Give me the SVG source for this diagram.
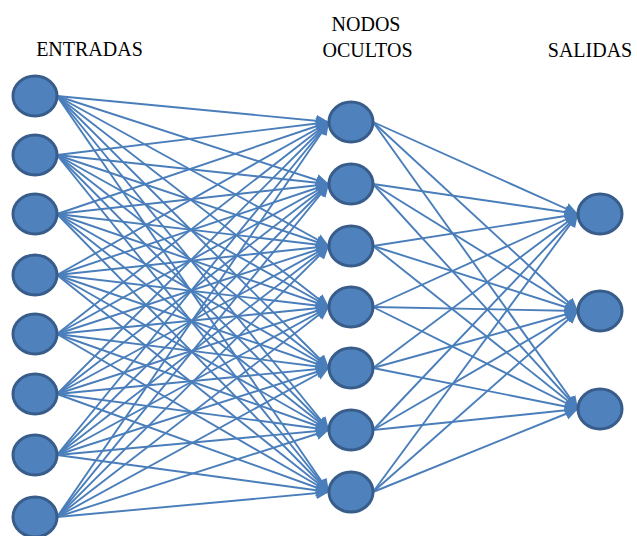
<svg xmlns="http://www.w3.org/2000/svg" width="637" height="536" viewBox="0 0 637 536">
<defs>
<marker id="ah" markerUnits="userSpaceOnUse" markerWidth="16" markerHeight="14" refX="13" refY="6" orient="auto">
<path d="M0,0 L13,6 L0,12 Z" fill="#4a7ebb"/>
</marker>
</defs>
<rect width="637" height="536" fill="#fff"/>
<g id="connectors" stroke="#4a7ebb" stroke-width="1.9" marker-end="url(#ah)">
<line x1="57" y1="96" x2="329" y2="122"/><line x1="57" y1="96" x2="329" y2="184"/><line x1="57" y1="96" x2="329" y2="246"/><line x1="57" y1="96" x2="329" y2="307"/><line x1="57" y1="96" x2="329" y2="368"/><line x1="57" y1="96" x2="329" y2="430"/><line x1="57" y1="96" x2="329" y2="492"/>
<line x1="57" y1="155" x2="329" y2="122"/><line x1="57" y1="155" x2="329" y2="184"/><line x1="57" y1="155" x2="329" y2="246"/><line x1="57" y1="155" x2="329" y2="307"/><line x1="57" y1="155" x2="329" y2="368"/><line x1="57" y1="155" x2="329" y2="430"/><line x1="57" y1="155" x2="329" y2="492"/>
<line x1="57" y1="214" x2="329" y2="122"/><line x1="57" y1="214" x2="329" y2="184"/><line x1="57" y1="214" x2="329" y2="246"/><line x1="57" y1="214" x2="329" y2="307"/><line x1="57" y1="214" x2="329" y2="368"/><line x1="57" y1="214" x2="329" y2="430"/><line x1="57" y1="214" x2="329" y2="492"/>
<line x1="57" y1="275" x2="329" y2="122"/><line x1="57" y1="275" x2="329" y2="184"/><line x1="57" y1="275" x2="329" y2="246"/><line x1="57" y1="275" x2="329" y2="307"/><line x1="57" y1="275" x2="329" y2="368"/><line x1="57" y1="275" x2="329" y2="430"/><line x1="57" y1="275" x2="329" y2="492"/>
<line x1="57" y1="334" x2="329" y2="122"/><line x1="57" y1="334" x2="329" y2="184"/><line x1="57" y1="334" x2="329" y2="246"/><line x1="57" y1="334" x2="329" y2="307"/><line x1="57" y1="334" x2="329" y2="368"/><line x1="57" y1="334" x2="329" y2="430"/><line x1="57" y1="334" x2="329" y2="492"/>
<line x1="57" y1="394" x2="329" y2="122"/><line x1="57" y1="394" x2="329" y2="184"/><line x1="57" y1="394" x2="329" y2="246"/><line x1="57" y1="394" x2="329" y2="307"/><line x1="57" y1="394" x2="329" y2="368"/><line x1="57" y1="394" x2="329" y2="430"/><line x1="57" y1="394" x2="329" y2="492"/>
<line x1="57" y1="455" x2="329" y2="122"/><line x1="57" y1="455" x2="329" y2="184"/><line x1="57" y1="455" x2="329" y2="246"/><line x1="57" y1="455" x2="329" y2="307"/><line x1="57" y1="455" x2="329" y2="368"/><line x1="57" y1="455" x2="329" y2="430"/><line x1="57" y1="455" x2="329" y2="492"/>
<line x1="57" y1="517" x2="329" y2="122"/><line x1="57" y1="517" x2="329" y2="184"/><line x1="57" y1="517" x2="329" y2="246"/><line x1="57" y1="517" x2="329" y2="307"/><line x1="57" y1="517" x2="329" y2="368"/><line x1="57" y1="517" x2="329" y2="430"/><line x1="57" y1="517" x2="329" y2="492"/>
<line x1="373" y1="122" x2="578" y2="214"/><line x1="373" y1="122" x2="578" y2="311"/><line x1="373" y1="122" x2="578" y2="409"/>
<line x1="373" y1="184" x2="578" y2="214"/><line x1="373" y1="184" x2="578" y2="311"/><line x1="373" y1="184" x2="578" y2="409"/>
<line x1="373" y1="246" x2="578" y2="214"/><line x1="373" y1="246" x2="578" y2="311"/><line x1="373" y1="246" x2="578" y2="409"/>
<line x1="373" y1="307" x2="578" y2="214"/><line x1="373" y1="307" x2="578" y2="311"/><line x1="373" y1="307" x2="578" y2="409"/>
<line x1="373" y1="368" x2="578" y2="214"/><line x1="373" y1="368" x2="578" y2="311"/><line x1="373" y1="368" x2="578" y2="409"/>
<line x1="373" y1="430" x2="578" y2="214"/><line x1="373" y1="430" x2="578" y2="311"/><line x1="373" y1="430" x2="578" y2="409"/>
<line x1="373" y1="492" x2="578" y2="214"/><line x1="373" y1="492" x2="578" y2="311"/><line x1="373" y1="492" x2="578" y2="409"/>
</g>
<g fill="#4f81bd" stroke="#385d8a" stroke-width="3">
<g id="in1"><ellipse cx="35" cy="96" rx="22" ry="20"/></g>
<g id="in2"><ellipse cx="35" cy="155" rx="22" ry="20"/></g>
<g id="in3"><ellipse cx="35" cy="214" rx="22" ry="20"/></g>
<g id="in4"><ellipse cx="35" cy="275" rx="22" ry="20"/></g>
<g id="in5"><ellipse cx="35" cy="334" rx="22" ry="20"/></g>
<g id="in6"><ellipse cx="35" cy="394" rx="22" ry="20"/></g>
<g id="in7"><ellipse cx="35" cy="455" rx="22" ry="20"/></g>
<g id="in8"><ellipse cx="35" cy="517" rx="22" ry="20"/></g>
<g id="h1"><ellipse cx="351" cy="122" rx="22" ry="20"/></g>
<g id="h2"><ellipse cx="351" cy="184" rx="22" ry="20"/></g>
<g id="h3"><ellipse cx="351" cy="246" rx="22" ry="20"/></g>
<g id="h4"><ellipse cx="351" cy="307" rx="22" ry="20"/></g>
<g id="h5"><ellipse cx="351" cy="368" rx="22" ry="20"/></g>
<g id="h6"><ellipse cx="351" cy="430" rx="22" ry="20"/></g>
<g id="h7"><ellipse cx="351" cy="492" rx="22" ry="20"/></g>
<g id="o1"><ellipse cx="600" cy="214" rx="22" ry="20"/></g>
<g id="o2"><ellipse cx="600" cy="311" rx="22" ry="20"/></g>
<g id="o3"><ellipse cx="600" cy="409" rx="22" ry="20"/></g>
</g>
<g id="labels" font-family="Liberation Serif, Times New Roman, serif" font-size="20" text-anchor="middle" fill="#000">
<text x="89.5" y="56" font-family="Liberation Serif, serif">ENTRADAS</text>
<text x="366" y="31" font-family="Liberation Serif, serif">NODOS</text>
<text x="367.5" y="57" font-family="Liberation Serif, serif">OCULTOS</text>
<text x="590" y="57" font-family="Liberation Serif, serif">SALIDAS</text>
</g>
</svg>
